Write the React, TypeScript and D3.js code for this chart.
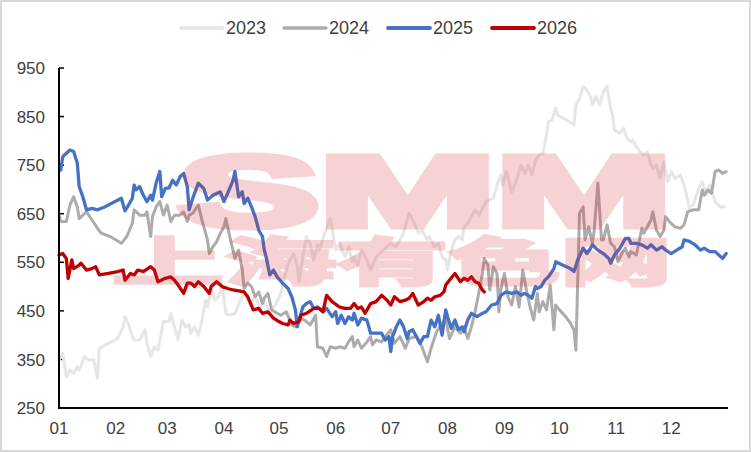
import * as d3 from "d3";

// day of year (0 = 01-01) and price
const days2023 = [0, 2, 4, 6, 8, 10, 11, 14, 16, 19, 21, 22, 27, 32, 35, 36, 38, 40, 41, 44, 47, 48, 50, 52, 54, 57, 60, 61, 63, 65, 67, 69, 71, 72, 74, 76, 78, 80, 81, 83, 85, 87, 89, 91, 93, 96, 99, 101, 104, 107, 110, 112, 115, 118, 121, 124, 126, 128, 130, 131, 133, 135, 137, 139, 141, 142, 144, 146, 148, 150, 151, 153, 156, 158, 160, 161, 163, 165, 168, 170, 173, 177, 181, 184, 188, 191, 193, 196, 198, 201, 202, 205, 207, 209, 211, 212, 214, 216, 218, 220, 221, 223, 225, 227, 229, 233, 237, 239, 241, 242, 244, 247, 250, 252, 254, 256, 258, 260, 262, 264, 266, 267, 269, 271, 272, 277, 281, 282, 284, 286, 288, 290, 291, 293, 295, 297, 299, 301, 302, 303, 306, 308, 310, 312, 313, 315, 317, 319, 321, 323, 324, 326, 328, 330, 332, 334, 336, 339, 341, 342, 344, 346, 349, 351, 353, 355, 358, 361, 363];
const vals2023 = [349, 363, 314, 328, 321, 335, 328, 356, 349, 349, 311, 373, 383, 393, 417, 438, 421, 397, 390, 390, 411, 383, 356, 376, 369, 428, 428, 445, 417, 390, 431, 417, 421, 404, 417, 400, 431, 472, 458, 493, 472, 479, 500, 445, 441, 445, 472, 486, 462, 479, 455, 469, 448, 462, 486, 534, 555, 568, 541, 510, 561, 603, 589, 555, 586, 575, 599, 620, 640, 596, 575, 589, 561, 582, 551, 561, 544, 575, 555, 534, 561, 575, 589, 582, 610, 651, 637, 610, 616, 596, 603, 582, 589, 561, 555, 534, 575, 596, 603, 596, 623, 630, 644, 658, 647, 675, 682, 709, 730, 709, 737, 695, 723, 750, 733, 750, 730, 760, 771, 774, 812, 839, 843, 867, 853, 843, 833, 874, 888, 912, 905, 891, 874, 891, 874, 901, 912, 867, 853, 822, 816, 826, 805, 798, 802, 788, 778, 771, 778, 750, 743, 750, 723, 757, 716, 737, 723, 730, 709, 695, 661, 668, 702, 716, 688, 709, 675, 664, 664];

const days2024 = [0, 1, 4, 6, 8, 10, 11, 13, 15, 18, 21, 23, 28, 34, 37, 40, 41, 44, 47, 48, 50, 51, 53, 55, 57, 59, 61, 63, 66, 68, 70, 71, 73, 76, 78, 81, 82, 84, 86, 88, 90, 91, 94, 96, 98, 100, 101, 103, 105, 107, 109, 111, 112, 114, 116, 119, 121, 124, 127, 129, 131, 134, 137, 140, 141, 144, 146, 148, 151, 153, 156, 158, 160, 161, 163, 165, 168, 170, 171, 173, 176, 178, 181, 183, 186, 189, 191, 195, 198, 201, 203, 206, 209, 211, 213, 216, 219, 221, 223, 225, 227, 229, 231, 232, 234, 235, 237, 239, 240, 241, 243, 245, 247, 249, 251, 252, 253, 255, 257, 259, 261, 262, 264, 266, 268, 270, 271, 273, 276, 279, 281, 282, 284, 286, 287, 289, 291, 292, 294, 296, 297, 299, 301, 303, 305, 307, 309, 311, 312, 315, 318, 319, 321, 323, 324, 326, 328, 330, 331, 333, 336, 339, 341, 343, 346, 349, 351, 352, 354, 356, 358, 360, 362, 364];
const vals2024 = [647, 634, 634, 668, 685, 664, 640, 647, 654, 637, 620, 610, 603, 589, 603, 630, 658, 647, 647, 654, 603, 644, 664, 675, 647, 668, 634, 647, 647, 654, 634, 647, 651, 668, 637, 596, 568, 582, 592, 610, 623, 640, 589, 558, 575, 534, 496, 507, 500, 479, 489, 465, 476, 486, 452, 445, 441, 448, 421, 417, 435, 431, 421, 441, 376, 373, 356, 376, 373, 376, 373, 386, 397, 376, 390, 373, 386, 397, 380, 390, 386, 397, 411, 383, 397, 373, 393, 397, 376, 345, 373, 407, 424, 435, 393, 417, 404, 417, 393, 417, 448, 486, 527, 558, 544, 493, 541, 527, 448, 493, 527, 479, 462, 500, 458, 493, 534, 493, 458, 431, 486, 448, 469, 452, 503, 411, 462, 452, 440, 425, 410, 369, 651, 664, 596, 623, 589, 616, 713, 596, 596, 627, 589, 582, 551, 568, 579, 561, 572, 565, 620, 610, 623, 637, 654, 616, 603, 616, 644, 634, 623, 620, 627, 654, 658, 658, 699, 688, 699, 692, 737, 740, 733, 737];

const days2025 = [1, 2, 3, 6, 8, 10, 11, 13, 15, 18, 21, 25, 34, 36, 38, 40, 41, 42, 44, 46, 48, 50, 51, 53, 55, 56, 58, 60, 62, 64, 66, 68, 70, 71, 73, 76, 79, 81, 84, 88, 90, 92, 95, 96, 98, 100, 101, 103, 105, 107, 109, 111, 112, 113, 115, 117, 119, 122, 125, 127, 129, 130, 131, 133, 135, 137, 139, 141, 144, 146, 149, 151, 152, 154, 156, 158, 160, 161, 163, 165, 168, 170, 173, 176, 178, 180, 181, 182, 184, 186, 188, 190, 191, 193, 195, 197, 199, 201, 203, 205, 207, 209, 211, 212, 214, 216, 218, 220, 221, 223, 225, 228, 231, 233, 236, 239, 241, 244, 247, 250, 252, 254, 256, 258, 260, 261, 263, 265, 267, 270, 271, 275, 279, 281, 283, 286, 288, 290, 291, 294, 297, 300, 301, 303, 306, 309, 311, 312, 315, 318, 321, 323, 326, 329, 331, 334, 337, 340, 341, 344, 347, 350, 352, 355, 358, 360, 362, 364];
const vals2025 = [740, 767, 771, 781, 778, 754, 706, 685, 658, 661, 658, 664, 682, 656, 668, 682, 709, 699, 706, 688, 675, 688, 678, 713, 737, 685, 702, 703, 719, 709, 726, 733, 706, 658, 682, 713, 702, 678, 688, 695, 675, 692, 719, 737, 685, 695, 671, 682, 664, 644, 616, 603, 575, 561, 524, 534, 520, 507, 496, 479, 452, 417, 431, 458, 465, 469, 455, 458, 448, 455, 438, 448, 424, 441, 424, 438, 431, 445, 421, 435, 431, 404, 404, 404, 390, 397, 366, 397, 417, 431, 417, 393, 407, 411, 397, 383, 397, 397, 431, 417, 441, 400, 452, 438, 414, 431, 411, 417, 407, 431, 445, 438, 445, 448, 462, 465, 482, 489, 486, 489, 482, 486, 482, 476, 500, 496, 500, 513, 520, 537, 551, 544, 537, 531, 555, 579, 568, 579, 586, 575, 568, 558, 548, 565, 579, 599, 599, 589, 589, 586, 579, 586, 575, 582, 575, 568, 575, 582, 596, 593, 586, 575, 579, 572, 572, 565, 558, 568];

const days2026 = [0, 2, 4, 5, 7, 8, 11, 12, 15, 18, 20, 22, 27, 32, 35, 36, 39, 41, 43, 46, 50, 52, 54, 58, 61, 63, 65, 68, 70, 72, 74, 76, 79, 82, 83, 86, 89, 92, 95, 101, 103, 106, 109, 111, 114, 117, 120, 122, 125, 126, 128, 131, 132, 135, 139, 142, 144, 146, 149, 153, 156, 159, 161, 163, 165, 167, 170, 173, 176, 179, 181, 183, 186, 189, 191, 193, 196, 199, 201, 203, 205, 208, 210, 211, 213, 216, 219, 221, 223, 225, 227, 229, 231, 232];
const vals2026 = [565, 568, 558, 517, 555, 537, 544, 548, 534, 537, 541, 524, 527, 531, 534, 513, 527, 524, 534, 531, 541, 534, 510, 517, 520, 513, 503, 486, 507, 507, 500, 510, 500, 486, 500, 510, 500, 496, 493, 489, 479, 452, 455, 445, 448, 435, 428, 424, 421, 431, 424, 428, 441, 445, 455, 455, 448, 482, 469, 458, 455, 455, 465, 455, 458, 445, 465, 469, 482, 472, 462, 479, 469, 472, 476, 486, 462, 469, 476, 472, 479, 482, 489, 503, 513, 527, 510, 517, 513, 520, 510, 507, 493, 489];

const seriesNames = ["2023", "2024", "2025", "2026"];
const seriesDays = [days2023, days2024, days2025, days2026];
const seriesVals = [vals2023, vals2024, vals2025, vals2026];
const colors = ["#E7E6E6", "#AFABAB", "#4472C4", "#C00000"];
const widths = [3, 3, 3.3, 3.3];

const yTicks = [250, 350, 450, 550, 650, 750, 850, 950];
const monthLabels = ["01", "02", "03", "04", "05", "06", "07", "08", "09", "10", "11", "12"];

const W = 751;
const H = 452;
const font = "'Liberation Sans', Arial, sans-serif";

const dayToDate = (d: number) => new Date(2025, 0, 1 + d);

export default function App() {
  const x = d3.scaleTime()
    .domain([new Date(2025, 0, 1), new Date(2026, 0, 1)])
    .range([59, 728]);
  const y = d3.scaleLinear().domain([250, 950]).range([408, 68]);

  const line = d3.line<[number, number]>()
    .x(d => x(dayToDate(d[0])))
    .y(d => y(d[1]));

  // legend layout
  const legendX = [181, 284, 388, 492];

  return (
    <svg width={W} height={H} style={{ position: "absolute", left: 0, top: 0 }} fontFamily={font}>
      <rect x={0} y={0} width={W} height={H} fill="#fff" />
      <rect x={1} y={1} width={W - 2} height={H - 2} fill="none" stroke="#D9D9D9" strokeWidth={2} />

      {/* legend */}
      {seriesNames.map((name, i) => (
        <g key={name}>
          <line x1={legendX[i]} x2={legendX[i] + 42} y1={28} y2={28}
            stroke={colors[i]} strokeWidth={widths[i] + 0.5} strokeLinecap="round" />
          <text x={legendX[i] + 45} y={28} dy="0.36em" fontSize={18} fill="#404040">{name}</text>
        </g>
      ))}

      {/* y axis */}
      {yTicks.map(t => (
        <g key={t}>
          <line x1={59} x2={64} y1={y(t)} y2={y(t)} stroke="#000" strokeWidth={1.5} />
          <text x={45} y={y(t)} dy="0.36em" textAnchor="end" fontSize={17} fill="#404040">{t}</text>
        </g>
      ))}

      {/* x labels */}
      {monthLabels.map((m, i) => (
        <text key={m} x={x(new Date(2025, i, 1))} y={428} dy="0.36em" textAnchor="middle" fontSize={17} fill="#404040">{m}</text>
      ))}

      {/* series */}
      {seriesNames.map((name, i) => {
        const pts = seriesDays[i].map((d, k) => [d, seriesVals[i][k]] as [number, number]);
        return (
          <path key={name} d={line(pts) || ""} fill="none" stroke={colors[i]}
            strokeWidth={widths[i]} strokeLinejoin="round" strokeLinecap="round" />
        );
      })}

      <line x1={59} x2={59} y1={68} y2={409} stroke="#000" strokeWidth={2} />
      <line x1={58} x2={728} y1={408} y2={408} stroke="#000" strokeWidth={2} />

      {/* watermark, heavy strokes composited once via group opacity */}
      <g fill="#D9232E" stroke="#D9232E" strokeLinejoin="miter" opacity={0.2}>
        <text x={178} y={226} fontSize={100} fontWeight="bold" textLength={494}
          lengthAdjust="spacingAndGlyphs" strokeWidth={7}>SMM</text>
        <text x={112} y={281} fontSize={52} fontWeight="bold" textLength={560}
          lengthAdjust="spacingAndGlyphs" strokeWidth={3}
          fontFamily="'Noto Sans CJK SC', sans-serif">上海有色网</text>
      </g>
    </svg>
  );
}
